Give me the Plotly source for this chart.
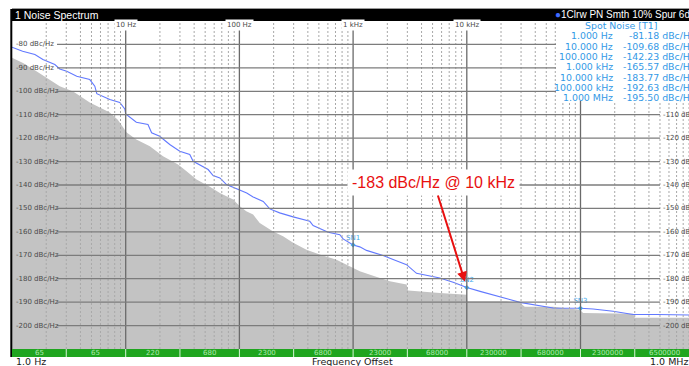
import math
import plotly.graph_objects as go

# ---------------------------------------------------------------- data ----
# Measured phase-noise trace: offset frequency (Hz) and level (dBc/Hz)
trace_freq = [1, 1.24, 1.59, 1.87, 2.38, 2.63, 3.03, 3.71, 4.83, 5.35, 5.57, 7.25, 8.87, 9.82, 10,
              12.4, 15.7, 16.9, 19.9, 24.4, 29.9, 36.6, 39.2, 48.0, 53.1, 58.7, 67.3, 77.0, 91.1, 100,
              116, 132, 162, 185, 226, 297, 416, 445, 509, 603, 764, 817, 1000,
              1145, 1312, 1500, 1836, 2249, 2951, 3612, 4731, 5793, 7585, 10000,
              13090, 19490, 23880, 29240, 43850, 57410, 100000,
              129100, 193600, 290400, 465600, 855000, 1000000]
trace_dbc = [-81.18, -82.9, -84.3, -86.4, -88.6, -90.5, -91.4, -93.6, -95.0, -97.8, -101.0, -103.5, -104.8, -107.5, -109.68,
             -113.2, -114.2, -117.7, -119.2, -122.7, -125.6, -127.0, -129.9, -132.0, -133.4, -136.0, -137.0, -139.8, -141.2, -142.23,
             -143.4, -145.1, -147.0, -150.2, -151.9, -153.6, -155.5, -157.3, -158.7, -160.2, -161.2, -163.0, -165.57,
             -166.4, -167.9, -168.7, -170.1, -171.8, -174.0, -177.7, -179.0, -179.7, -181.5, -183.77,
             -185.4, -187.5, -188.9, -190.1, -191.5, -192.5, -192.63,
             -192.9, -193.9, -195.3, -195.3, -195.3, -195.50]

# Gray reference floor (filled down to the bottom of the grid)
floor_freq = [1, 1.25, 1.64, 2.01, 2.63, 3.45, 4.22, 4.83, 5.92, 7.25, 8.52, 10.2, 12.4, 16.3, 21.3,
              28.9, 34.3, 42.0, 55.0, 67.3, 88.1, 100.8, 115, 132, 151, 198, 242, 297, 389, 509,
              714, 935, 1145, 1500, 2103, 2951, 3048, 5793, 10000, 10120, 22330, 29240, 32360,
              57410, 98600, 105400, 290400, 300600, 1000000]
floor_dbc = [-85.7, -87.9, -91.4, -94.3, -97.8, -100.1, -102.8, -104.8, -106.9, -109.1, -112.1, -117.6, -120.6, -123.5, -127.7,
             -131.3, -134.1, -137.7, -140.8, -143.4, -146.2, -149.1, -151.2, -152.6, -156.2, -159.8, -161.9, -164.7, -167.6, -169.7,
             -171.9, -174.7, -176.8, -178.7, -181.1, -182.5, -185.0, -186.1, -186.8, -189.6, -189.6, -190.3, -192.0,
             -192.0, -193.2, -194.6, -195.0, -196.7, -196.7]

# Spot noise table
spot_freq_labels = ["1.000 Hz", "10.000 Hz", "100.000 Hz", "1.000 kHz",
                    "10.000 kHz", "100.000 kHz", "1.000 MHz"]
spot_dbc = [-81.18, -109.68, -142.23, -165.57, -183.77, -192.63, -195.50]

# Spot noise markers placed on the trace
marker_freq = [1000, 10000, 100000, 1000000]
marker_dbc = [-165.57, -183.77, -192.63, -195.50]
marker_names = ["SN1", "SN2", "SN3", "SN4"]

# Axis ticks
level_ticks = [-80, -90, -100, -110, -120, -130, -140, -150, -160, -170, -180, -190, -200]
decade_ticks = [10, 100, 1000, 10000, 100000]
decade_labels = ["10 Hz", "100 Hz", "1 kHz", "10 kHz"]

# Sweep segments along the bottom bar
seg_edges = [1, 3, 10, 30, 100, 300, 1000, 3000, 10000, 30000, 100000, 300000, 1000000]
seg_labels = ["65", "65", "220", "680", "2300", "6800", "23000", "68000",
              "230000", "680000", "2300000", "6500000"]

# ------------------------------------------------------------- layout ----
W, H = 689, 366
ML, MR, MT, MB = 12, 0, 21, 17
PW, PH = W - ML - MR, H - MT - MB
X_RANGE = [0, PW / 113.7]          # log10 decades shown
Y_RANGE = [-210, -70]


def px_x(px):
    return (px - ML) / PW


def px_y(py):
    return (H - MB - py) / PH


fig = go.Figure()

# baseline for the gray fill
fig.add_trace(go.Scatter(x=[floor_freq[0], floor_freq[-1]], y=[Y_RANGE[0], Y_RANGE[0]],
                         mode="lines", line=dict(width=0), hoverinfo="skip"))
fig.add_trace(go.Scatter(x=floor_freq, y=floor_dbc, mode="lines", line=dict(width=0, color="#c3c3c3"),
                         fill="tonexty", fillcolor="#c3c3c3", hoverinfo="skip"))
fig.add_trace(go.Scatter(x=trace_freq, y=trace_dbc, mode="lines",
                         line=dict(color="#6279ff", width=1.1)))
fig.add_trace(go.Scatter(x=marker_freq, y=marker_dbc, mode="markers+text", text=marker_names,
                         textposition="top center", cliponaxis=False,
                         textfont=dict(family="DejaVu Sans", size=7, color="#44aaee"),
                         marker=dict(symbol="diamond", size=4, color="#44aaee")))

shapes = []
# minor vertical grid (dashed)
for d in range(6):
    for k in range(2, 10):
        shapes.append(dict(type="line", xref="x", yref="paper", x0=k * 10 ** d, x1=k * 10 ** d,
                           y0=0, y1=1, layer="above",
                           line=dict(color="#a8a8a8", width=1, dash="2px,2px")))
# decade grid
for f in decade_ticks:
    shapes.append(dict(type="line", xref="x", yref="paper", x0=f, x1=f, y0=0, y1=1, layer="above",
                       line=dict(color="#6a6a6a", width=1.3)))
# level grid
for v in level_ticks:
    shapes.append(dict(type="line", xref="paper", yref="y", x0=px_x(57), x1=px_x(660), y0=v, y1=v,
                       layer="above", line=dict(color="#7c7c7c", width=1.3)))
# spot noise box
shapes.append(dict(type="rect", xref="paper", yref="paper", x0=px_x(556), x1=1.01,
                   y0=px_y(101), y1=1, layer="above", fillcolor="white", line=dict(width=0)))
# title bar
shapes.append(dict(type="rect", xref="paper", yref="paper", x0=0, x1=1.01,
                   y0=1, y1=px_y(9), layer="above", fillcolor="black", line=dict(width=0)))
shapes.append(dict(type="line", xref="paper", yref="paper", x0=0, x1=1.01,
                   y0=px_y(8.5), y1=px_y(8.5), layer="above", line=dict(color="#9a9a9a", width=1)))
# left frame
shapes.append(dict(type="line", xref="paper", yref="paper", x0=px_x(11.3), x1=px_x(11.3),
                   y0=px_y(357), y1=px_y(9), layer="above", line=dict(color="black", width=2)))
# segment bar
shapes.append(dict(type="rect", xref="paper", yref="paper", x0=0, x1=1.01,
                   y0=px_y(357), y1=0, layer="above", fillcolor="#1fa51f", line=dict(width=0)))
for f in seg_edges[1:-1]:
    shapes.append(dict(type="line", xref="x", yref="paper", x0=f, x1=f, y0=px_y(357), y1=0,
                       layer="above", line=dict(color="#d8f5d8", width=1)))

ann = []
axis_font = dict(family="DejaVu Sans", size=7, color="#4a4a4a")
for v in level_ticks:
    ann.append(dict(xref="paper", yref="y", x=px_x(14), y=v, text=f"{v} dBc/Hz", showarrow=False,
                    xanchor="left", yanchor="middle", font=axis_font))
    if v <= -110:
        ann.append(dict(xref="paper", yref="y", x=px_x(661), y=v, text=f"{v} dBc/Hz", showarrow=False,
                        xanchor="left", yanchor="middle", font=axis_font))
for f, lab in zip(decade_ticks, decade_labels):
    ann.append(dict(xref="x", yref="paper", x=math.log10(f), y=px_y(25.5), text=lab, showarrow=False,
                    xanchor="center", yanchor="middle", font=axis_font, bgcolor="white", borderpad=1))

for a, b, lab in zip(seg_edges[:-1], seg_edges[1:], seg_labels):
    ann.append(dict(xref="x", yref="paper", x=(math.log10(a) + math.log10(b)) / 2, y=px_y(353),
                    text=lab, showarrow=False, xanchor="center", yanchor="middle",
                    font=dict(family="DejaVu Sans", size=7, color="#aee8ae")))

bottom_font = dict(family="DejaVu Sans", size=9.5, color="#1a1a1a")
ann.append(dict(xref="paper", yref="paper", x=px_x(14), y=px_y(361.5), text="1.0 Hz", showarrow=False,
                xanchor="left", yanchor="middle", font=bottom_font))
ann.append(dict(xref="paper", yref="paper", x=px_x(352.5), y=px_y(361.5), text="Frequency Offset",
                showarrow=False, xanchor="center", yanchor="middle", font=bottom_font))
ann.append(dict(xref="paper", yref="paper", x=px_x(690), y=px_y(361.5), text="1.0 MHz", showarrow=False,
                xanchor="right", yanchor="middle", font=bottom_font))

title_font = dict(family="Liberation Sans", size=10.5, color="white")
ann.append(dict(xref="paper", yref="paper", x=px_x(13), y=px_y(15), text="1 Noise Spectrum",
                showarrow=False, xanchor="left", yanchor="middle", font=title_font))
ann.append(dict(xref="paper", yref="paper", x=px_x(553), y=px_y(15),
                text="<span style='color:#3f6bff'>●</span>1Clrw PN Smth 10% Spur 6dB",
                showarrow=False, xanchor="left", yanchor="middle",
                font=dict(family="Liberation Sans", size=10, color="white")))

legend_font = dict(family="DejaVu Sans", size=9.4, color="#3399e6")
ann.append(dict(xref="paper", yref="paper", x=px_x(621), y=px_y(25), text="Spot Noise [T1]",
                showarrow=False, xanchor="center", yanchor="middle", font=legend_font))
for i, (lab, val) in enumerate(zip(spot_freq_labels, spot_dbc)):
    yy = px_y(35.7 + i * 10.33)
    ann.append(dict(xref="paper", yref="paper", x=px_x(615), y=yy, text=lab, showarrow=False,
                    xanchor="right", yanchor="middle", font=legend_font))
    ann.append(dict(xref="paper", yref="paper", x=px_x(697), y=yy, text=f"{val:.2f} dBc/Hz",
                    showarrow=False, xanchor="right", yanchor="middle", font=legend_font))

ann.append(dict(xref="x", yref="y", x=math.log10(marker_freq[1]), y=marker_dbc[1],
                text="-183 dBc/Hz @ 10 kHz", showarrow=True, ax=-33, ay=-105,
                arrowcolor="#e81010", arrowwidth=2, arrowhead=2, arrowsize=1, standoff=6,
                bgcolor="white", borderpad=4,
                font=dict(family="Liberation Sans", size=16, color="#e81010")))

fig.update_layout(
    width=W, height=H, autosize=False,
    margin=dict(l=ML, r=MR, t=MT, b=MB, pad=0),
    paper_bgcolor="white", plot_bgcolor="white",
    showlegend=False,
    shapes=shapes, annotations=ann,
    xaxis=dict(type="log", range=X_RANGE, showgrid=False, showticklabels=False, zeroline=False,
               showline=False, ticks=""),
    yaxis=dict(range=Y_RANGE, showgrid=False, showticklabels=False, zeroline=False,
               showline=False, ticks=""),
)

fig.write_html("out.html", config={"displayModeBar": False})
